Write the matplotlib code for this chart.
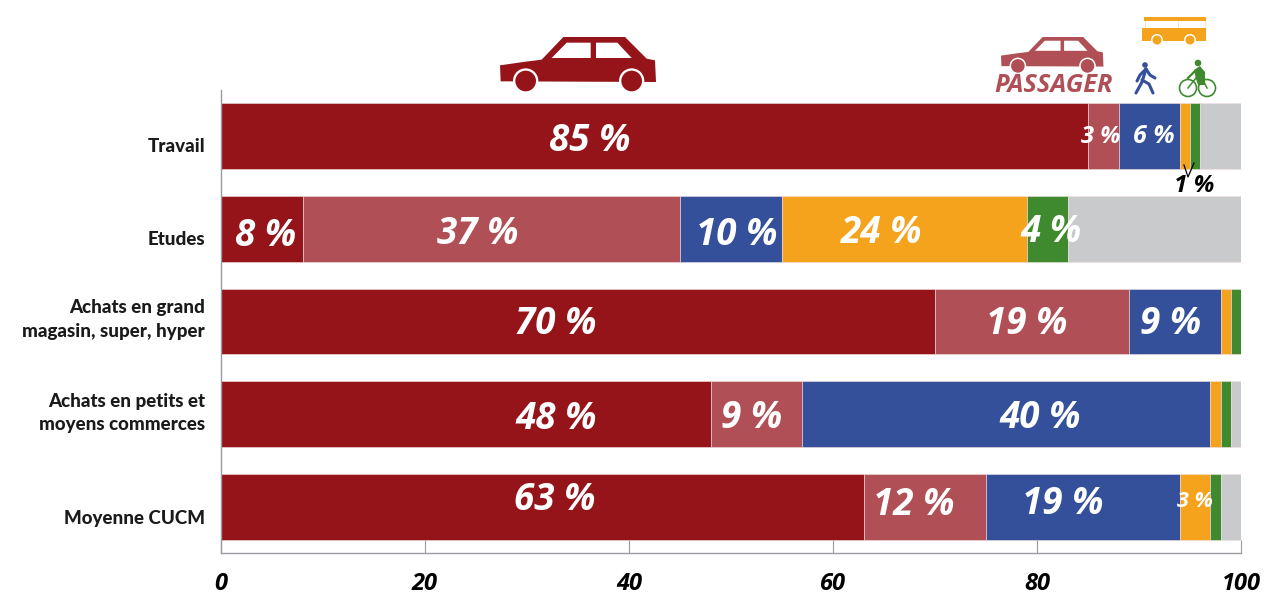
"""Modes de deplacement par motif : barres empilees a 100 %."""

import matplotlib

matplotlib.use("Agg")
import matplotlib.pyplot as plt
from matplotlib.patches import Circle, Polygon, Rectangle

CATEGORIES = [
    "Travail",
    "Etudes",
    "Achats en grand\nmagasin, super, hyper",
    "Achats en petits et\nmoyens commerces",
    "Moyenne CUCM",
]
VOITURE = [85, 8, 70, 48, 63]
PASSAGER = [3, 37, 19, 9, 12]
MARCHE = [6, 10, 9, 40, 19]
BUS = [1, 24, 1, 1, 3]
VELO = [1, 4, 1, 1, 1]
AUTRE = [4, 17, 0, 1, 2]
X_TICKS = [0, 20, 40, 60, 80, 100]

RED = "#94141a"
ROSE = "#b04f55"
BLUE = "#35509a"
ORANGE = "#f5a21c"
GREEN = "#3f8a2e"
GREY = "#c9cacb"
AXIS = "#9a9aa2"
FONT = "Open Sans"

W, H = 1264, 593

SERIES = [
    (VOITURE, RED),
    (PASSAGER, ROSE),
    (MARCHE, BLUE),
    (BUS, ORANGE),
    (VELO, GREEN),
    (AUTRE, GREY),
]

# (ligne, serie): decalage du libelle en pixels (dx, dy) et taille de police
LABEL_STYLE = {
    (0, 0): (-65, -5, 26.5),
    (0, 1): (-3, -1, 17),
    (0, 2): (5, 0, 18),
    (1, 0): (4, -7, 26.5),
    (1, 1): (-14, -5, 26.5),
    (1, 2): (6, -6, 26.5),
    (1, 3): (-23, -4, 26.5),
    (1, 4): (4, -3, 26.5),
    (2, 0): (-22, -3, 26.5),
    (2, 1): (-5, -2, 26.5),
    (2, 2): (-4, -3, 26.5),
    (3, 0): (90, -5, 26.5),
    (3, 1): (-5, -4, 26.5),
    (3, 2): (34, -4, 26.5),
    (4, 0): (12, 7, 26.5),
    (4, 1): (-11, 2, 26.5),
    (4, 2): (-20, 3, 26.5),
    (4, 3): (0, 5, 15.5),
}

# decalage vertical (pixels) des intitules de ligne
CATEGORY_DY = [-10, -11, 2, 1, -12]


def draw_car(ov, x0, y0, scale, color):
    """Silhouette de voiture ; x0, y0 = coin haut gauche en pixels."""

    def pt(u, v):
        return (x0 + (u - 60) * scale, y0 + (v - 50) * scale)

    body = [(60, 135), (130, 125), (185, 118), (250, 50), (435, 50), (500, 115),
            (525, 120), (528, 185), (62, 183)]
    ov.add_patch(Polygon([pt(*p) for p in body], fc=color, ec="none"))
    for win in ([(215, 113), (260, 67), (332, 67), (332, 113)],
                [(348, 67), (412, 67), (455, 113), (348, 113)]):
        ov.add_patch(Polygon([pt(*p) for p in win], fc="white", ec="none"))
    for cx in (137, 455):
        ov.add_patch(Circle(pt(cx, 182), 38 * scale, fc="white", ec="none"))
        ov.add_patch(Circle(pt(cx, 182), 31 * scale, fc=color, ec="none"))


def draw_bus(ov, color):
    ov.add_patch(Rectangle((1144, 17), 62, 3.5, fc=color, ec="none"))
    for x in (1145, 1178, 1205):
        ov.plot([x, x], [20, 29], color=color, lw=0.5, alpha=0.4)
    ov.add_patch(Rectangle((1142, 28), 64, 12.5, fc=color, ec="none"))
    for cx in (1157, 1190):
        ov.add_patch(Circle((cx, 40), 6, fc="white", ec="none"))
        ov.add_patch(Circle((cx, 40), 4.5, fc=color, ec="none"))


def draw_walker(ov, color):
    ov.add_patch(Circle((1145, 65), 2.8, fc=color, ec="none"))
    for xs, ys in (([1146, 1142, 1136], [69, 82, 93]),
                   ([1142, 1149, 1153], [80, 84, 93]),
                   ([1146, 1140, 1137], [69, 75, 81]),
                   ([1146, 1150, 1155], [69, 75, 78])):
        ov.plot(xs, ys, color=color, lw=2.2, solid_capstyle="round")


def draw_cyclist(ov, color):
    for cx, r in ((1188, 8.5), (1207, 8.5)):
        ov.add_patch(Circle((cx, 88), r, fc="none", ec=color, lw=1.2))
    ov.add_patch(Circle((1198, 63), 3.3, fc=color, ec="none"))
    ov.add_patch(Polygon([(1194, 70), (1200, 66), (1205, 72), (1205, 85),
                          (1198, 85), (1196, 79)], fc=color, ec="none"))
    ov.plot([1188, 1196, 1204, 1207], [88, 78, 82, 88], color=color, lw=1.1)
    ov.plot([1195, 1188], [71, 78], color=color, lw=1.6)


fig = plt.figure(figsize=(W / 100, H / 100), dpi=100)
ax = fig.add_axes([221 / W, 1 - 553 / H, 1020 / W, 463 / H])

rows = range(len(CATEGORIES))
left = [0] * len(CATEGORIES)
for s, (values, color) in enumerate(SERIES):
    ax.barh(list(rows), values, left=left, height=0.71, color=color,
            edgecolor="#f3dfe0", linewidth=0.4)
    if s < 5:
        for r in rows:
            if (r, s) in LABEL_STYLE:
                dx, dy, size = LABEL_STYLE[(r, s)]
                ax.annotate(f"{values[r]} %", (left[r] + values[r] / 2, r),
                            xytext=(dx, dy), textcoords="offset pixels",
                            ha="center", va="center", color="white",
                            fontsize=size, fontweight="bold", style="italic",
                            family=FONT)
    left = [a + b for a, b in zip(left, values)]

ax.set_xlim(0, 100)
ax.set_ylim(len(CATEGORIES) - 0.5, -0.5)
ax.set_xticks(X_TICKS)
ax.set_yticks([])
for r, name in enumerate(CATEGORIES):
    ax.annotate(name, (0, r), xytext=(-16, CATEGORY_DY[r]),
                textcoords="offset pixels", ha="right", va="center",
                fontsize=13.5, fontweight="black", family="Lato",
                color="#1a1a1a", linespacing=1.45, annotation_clip=False)
ax.tick_params(axis="x", direction="in", length=9.5, width=0.8, color=AXIS, pad=14)
for lab in ax.get_xticklabels():
    lab.set(fontsize=17, fontweight="bold", style="italic", family=FONT)
for side in ("top", "right"):
    ax.spines[side].set_visible(False)
for side in ("left", "bottom"):
    ax.spines[side].set_color(AXIS)
    ax.spines[side].set_linewidth(1.0)

# calque en pixels pour les pictogrammes et la note du 1 %
ov = fig.add_axes([0, 0, 1, 1], facecolor="none")
ov.set_xlim(0, W)
ov.set_ylim(H, 0)
ov.axis("off")
draw_car(ov, 500, 37, 1 / 3, RED)
draw_car(ov, 1001, 37, 0.219, ROSE)
draw_bus(ov, ORANGE)
draw_walker(ov, BLUE)
draw_cyclist(ov, GREEN)
ov.text(1054, 86, "PASSAGER", color=ROSE, fontsize=18.3, fontweight="bold",
        style="italic", family=FONT, ha="center", va="center")
ov.plot([1184, 1188, 1194], [165, 177, 163], color="black", lw=0.9)
ov.text(1194, 186, f"{BUS[0]} %", color="black", fontsize=17.5, fontweight="bold",
        style="italic", family=FONT, ha="center", va="center")

fig.savefig("out.png", dpi=100)
